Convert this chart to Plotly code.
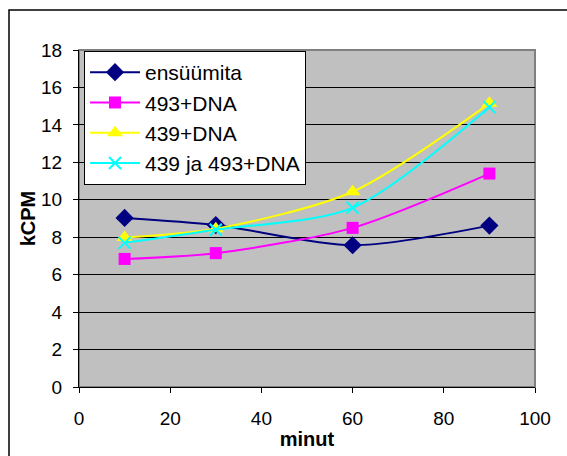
import plotly.graph_objects as go

minutes = [10, 30, 60, 90]
ensuumita = [9.03, 8.65, 7.57, 8.62]
dna493 = [6.84, 7.15, 8.5, 11.4]
dna439 = [7.98, 8.45, 10.43, 15.15]
dna439_493 = [7.7, 8.4, 9.57, 14.95]

series = [
    ("ensüümita", ensuumita, "#000080", "diamond", 14),
    ("493+DNA", dna493, "#FF00FF", "square", 12),
    ("439+DNA", dna439, "#FFFF00", "triangle-up", 14),
    ("439 ja 493+DNA", dna439_493, "#00FFFF", "x-thin-open", 12),
]

fig = go.Figure()
for i, (name, vals, col, sym, sz) in enumerate(series):
    marker = dict(color=col, symbol=sym, size=sz)
    if sym == "x-thin-open":
        marker["line"] = dict(color=col, width=2)
    fig.add_trace(go.Scatter(
        x=minutes, y=vals, name=name, mode="lines+markers",
        legendgroup="g%d" % i,
        line=dict(color=col, width=2, shape="spline", smoothing=0.8),
        marker=marker,
    ))

font_fam = "Liberation Sans, Arial, sans-serif"
fig.update_layout(
    width=567, height=456,
    margin=dict(l=79, r=32, t=50, b=69, autoexpand=False),
    paper_bgcolor="white",
    plot_bgcolor="#C0C0C0",
    font=dict(family=font_fam, size=19, color="black"),
    showlegend=True,
    legend=dict(x=0.011, y=0.997, xanchor="left", yanchor="top",
                bgcolor="white", bordercolor="black", borderwidth=1,
                itemwidth=50, tracegroupgap=0,
                font=dict(size=21, family=font_fam)),
    xaxis=dict(range=[0, 100], dtick=20, showgrid=False, zeroline=False,
               showline=True, linecolor="black", linewidth=1, automargin=False,
               ticks="outside", ticklen=5, tickcolor="black",
               tickfont=dict(size=19), ticklabelstandoff=9,
               title=dict(text="<b>minut</b>", font=dict(size=20), standoff=4)),
    yaxis=dict(range=[0, 18], dtick=2, showgrid=True, gridcolor="black", gridwidth=1,
               zeroline=False, showline=True, linecolor="black", linewidth=1, automargin=False,
               ticks="outside", ticklen=5, tickcolor="black",
               tickfont=dict(size=19), ticklabelstandoff=7,
               title=dict(text="<b>kCPM</b>", font=dict(size=20), standoff=0)),
    shapes=[
        dict(type="rect", xref="paper", yref="paper", x0=0, x1=1, y0=0, y1=1,
             line=dict(color="#808080", width=2), layer="below"),
        dict(type="rect", xref="paper", yref="paper",
             x0=(9 - 79) / 456, x1=(600 - 79) / 456,
             y0=(387 - 480) / 337, y1=(387 - 10) / 337,
             line=dict(color="black", width=1.5)),
    ],
)

fig.write_html("out.html")
